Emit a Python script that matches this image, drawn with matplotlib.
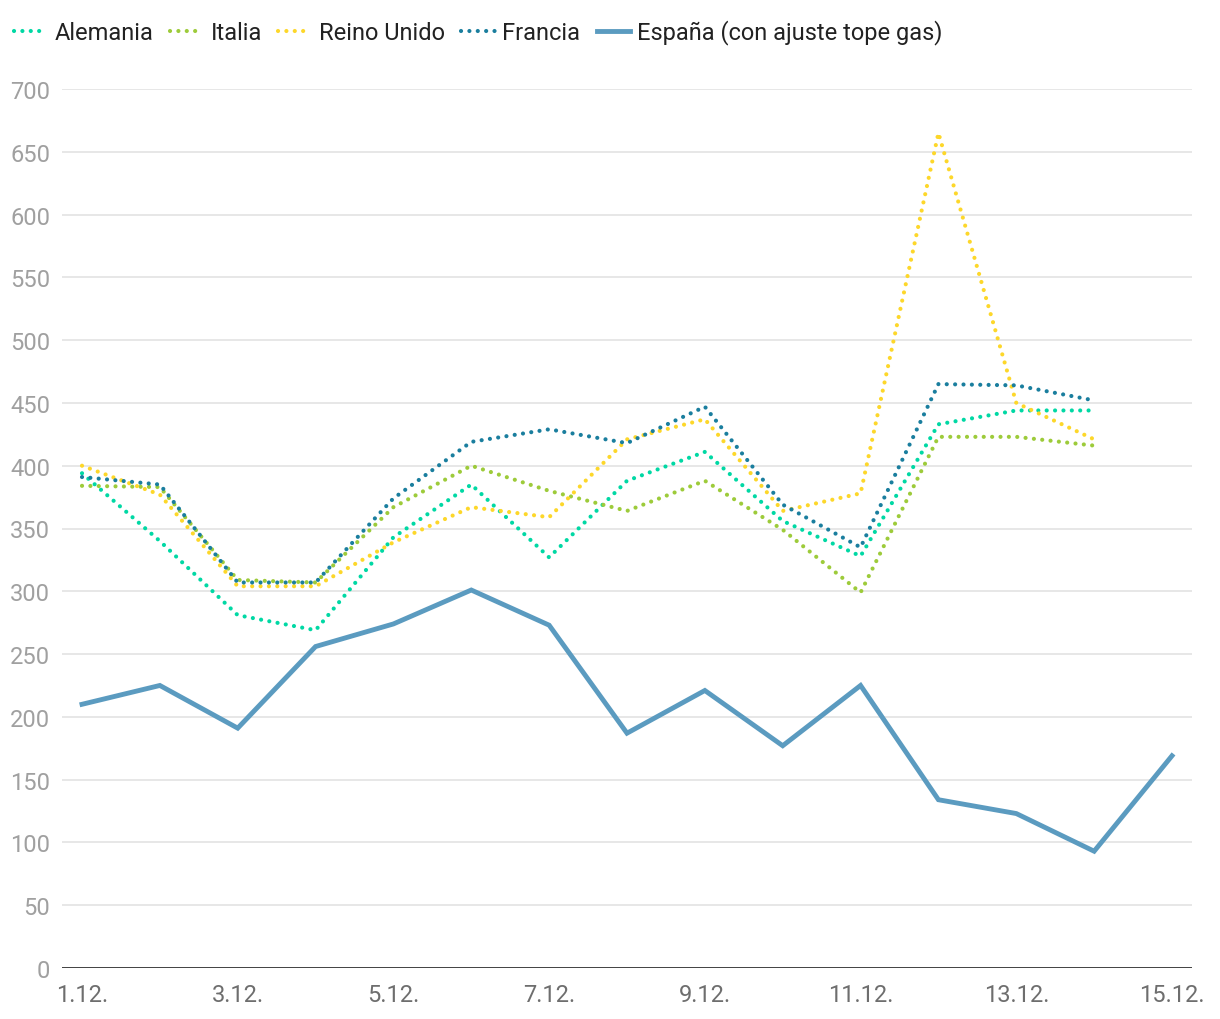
import matplotlib.pyplot as plt

plt.rcParams['font.family'] = ['Roboto', 'DejaVu Sans']

days = list(range(1, 16))
tick_days = [1, 3, 5, 7, 9, 11, 13, 15]
tick_labels = ["1.12.", "3.12.", "5.12.", "7.12.", "9.12.", "11.12.", "13.12.", "15.12."]

alemania = [394, 340, 281, 269, 343, 385, 327, 388, 411, 356, 328, 433, 444, 444]
italia = [384, 383, 309, 307, 367, 400, 380, 364, 388, 349, 299, 423, 423, 416]
reino_unido = [400, 377, 304, 304, 339, 367, 359, 421, 437, 364, 378, 665, 450, 421]
francia = [391, 385, 307, 307, 374, 419, 429, 418, 447, 369, 335, 465, 464, 452]
espana = [210, 225, 191, 256, 274, 301, 273, 187, 221, 177, 225, 134, 123, 93, 169]

fig = plt.figure(figsize=(12.2, 10.2), dpi=100)
ax = fig.add_axes([62 / 1220, 1 - 969 / 1020, 1130 / 1220, 879 / 1020])

dots = (0, (0.01, 2.0))
ax.plot(days[:14], alemania, color='#00d8a4', lw=3.0, linestyle=dots,
        dash_capstyle='round', label='Alemania', zorder=3)
ax.plot(days[:14], italia, color='#9dcb3a', lw=3.0, linestyle=dots,
        dash_capstyle='round', label='Italia', zorder=3)
ax.plot(days[:14], reino_unido, color='#fdd72a', lw=3.0, linestyle=dots,
        dash_capstyle='round', label='Reino Unido', zorder=3)
ax.plot(days[:14], francia, color='#1a7e9e', lw=3.0, linestyle=dots,
        dash_capstyle='round', label='Francia', zorder=3)
ax.plot(days, espana, color='#5b9bc0', lw=3.5, solid_joinstyle='miter',
        label='España (con ajuste tope gas)', zorder=4)

ax.set_xlim(1 - 20 / 77.86, 15 + 20 / 77.86)
ax.set_ylim(0, 700)
ax.set_yticks(range(0, 701, 50))
ax.set_xticks(tick_days)
ax.set_xticklabels(tick_labels)

ax.grid(axis='y', color='#e3e3e3', lw=1.2, zorder=0)
ax.axhline(0, color='#111111', lw=1.8, zorder=5)
for s in ax.spines.values():
    s.set_visible(False)
ax.tick_params(axis='both', length=0, labelsize=17)
ax.tick_params(axis='y', colors='#a0a0a0', pad=8.5)
ax.tick_params(axis='x', colors='#6e6e6e', pad=11)

fig.legend(loc='center left', bbox_to_anchor=(2 / 1220, 1 - 33 / 1020), ncol=5,
           frameon=False, fontsize=17, handlelength=1.4, handletextpad=0.32,
           columnspacing=0.7, borderpad=0, labelcolor='#222222')

fig.savefig('out.png', dpi=100)
